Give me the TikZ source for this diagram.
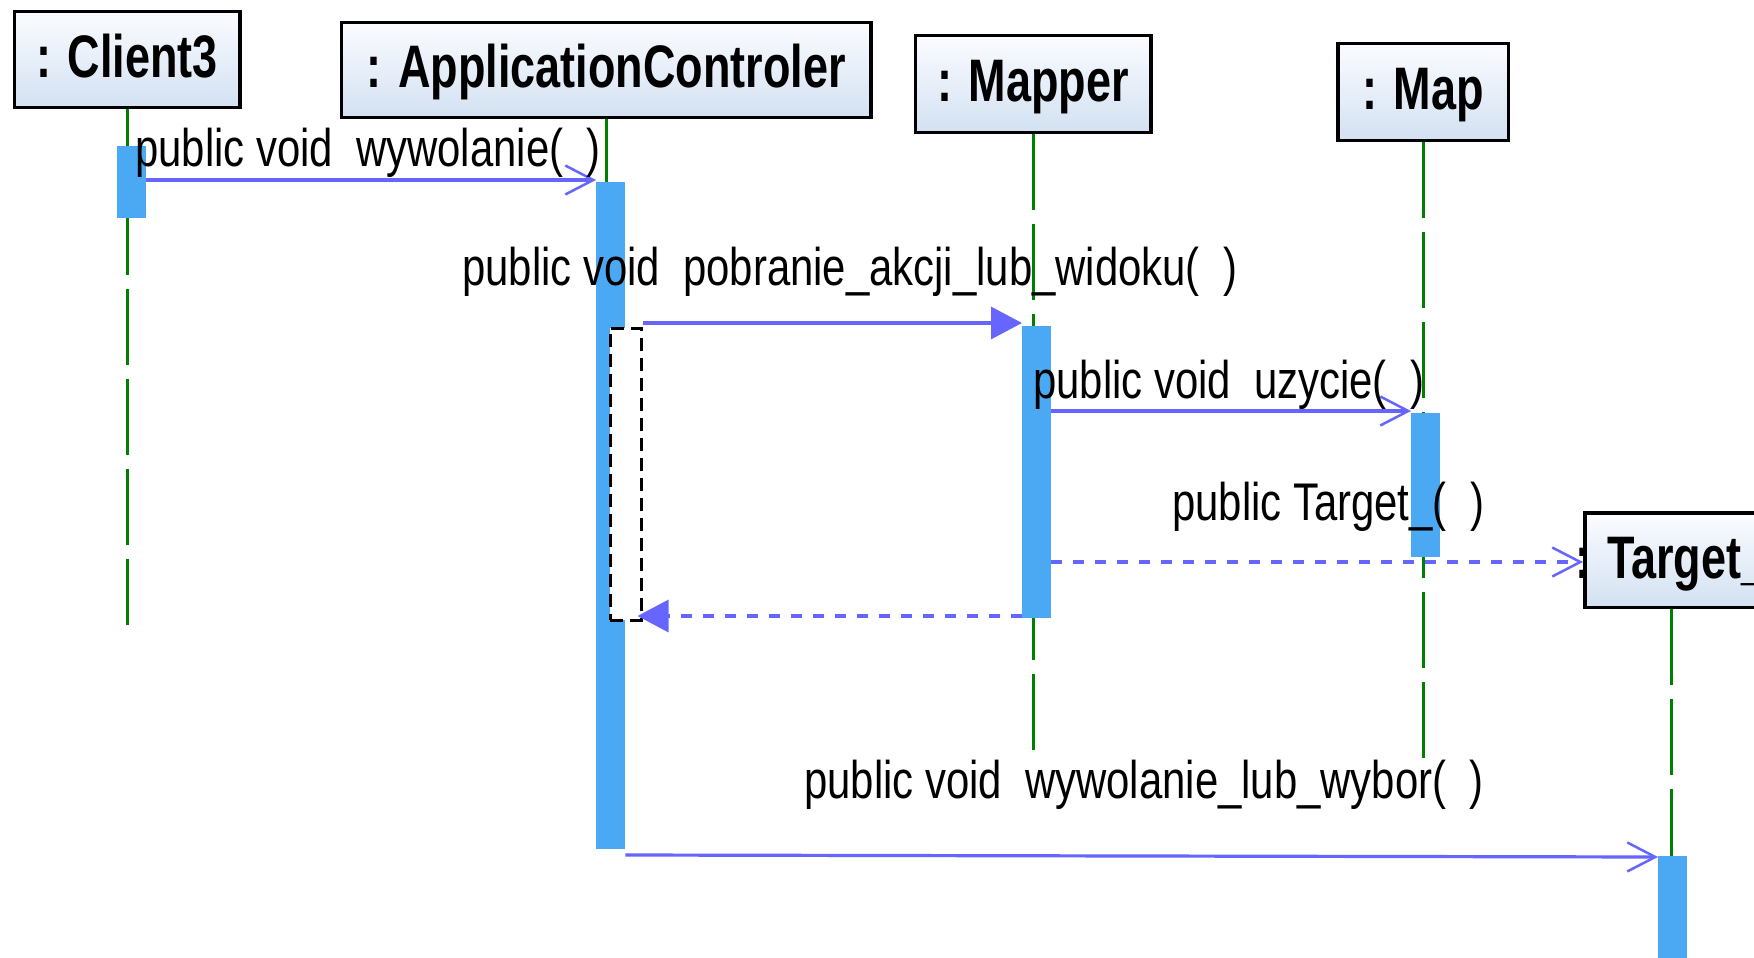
\documentclass[tikz,border=0pt]{standalone}
\usepackage{fontspec}
\setmainfont{Liberation Sans}
\newfontfamily\msgfont[FakeStretch=0.79]{Liberation Sans}
\newfontfamily\objfont[FakeStretch=0.75]{Liberation Sans Bold}
\usetikzlibrary{arrows.meta}

\definecolor{actblue}{RGB}{75,168,242}
\definecolor{msgblue}{RGB}{102,102,255}
\definecolor{lifegreen}{RGB}{0,128,0}
\definecolor{headtop}{RGB}{251,252,255}
\definecolor{headbot}{RGB}{211,225,242}

\begin{document}
\begin{tikzpicture}[x=1pt,y=-1pt,
  objbox/.style={draw=black,line width=3.5pt,top color=headtop,bottom color=headbot,inner sep=0pt},
  objname/.style={inner sep=0pt,text height=36pt,text depth=0pt,font=\objfont\fontsize{60}{60}\selectfont},
  lifeline/.style={draw=lifegreen,line width=3pt,dash pattern=on 76pt off 14pt},
  activation/.style={fill=actblue,draw=none,inner sep=0pt,minimum width=29pt,anchor=north west},
  msg/.style={draw=msgblue,line width=3.2pt},
  call/.style={msg,-{Straight Barb[length=28pt,width=29pt,line width=2.5pt]}},
  sync/.style={msg,-{Triangle[length=31pt,width=32pt]}},
  reply/.style={dash pattern=on 11pt off 11pt},
  msglabel/.style={inner sep=0pt,anchor=base west,font=\msgfont\fontsize{53}{60}\selectfont},
  nested/.style={draw=black,fill=white,line width=2.5pt,dash pattern=on 13pt off 7pt,inner sep=0pt,anchor=north west}
]
\useasboundingbox (0,0) rectangle (1754,958);
\clip (0,0) rectangle (1754,958);
\fill[white] (0,0) rectangle (1754,958);

% object heads
\node[objbox,minimum width=225.5pt,minimum height=95.5pt] (client) at (127,59.5) {};
\node[objbox,minimum width=529.5pt,minimum height=94.5pt] (ctrl) at (606,70) {};
\node[objbox,minimum width=235.5pt,minimum height=96.5pt] (mapper) at (1033,84) {};
\node[objbox,minimum width=170.5pt,minimum height=96.5pt] (map) at (1423,92) {};
\node[objbox,minimum width=172.5pt,minimum height=94.5pt] (target) at (1671,560) {};

% lifelines
\draw[lifeline] (client.south) -- ++(0,516);
\draw[lifeline] (ctrl.south) -- ++(0,616);
\draw[lifeline] (mapper.south) -- ++(0,616);
\draw[lifeline] (map.south) -- ++(0,616);
\draw[lifeline] (target.south) -- ++(0,360);

% activation bars
\node[activation,minimum height=72pt] (actclient) at (117,146) {};
\node[activation,minimum height=667pt] (actctrl) at (596,182) {};
\node[activation,minimum height=292pt] (actmapper) at (1022,326) {};
\node[activation,minimum height=144pt] (actmap) at (1411,413) {};
\node[activation,minimum height=110pt] (acttarget) at (1658,856) {};

% nested execution on the controller
\node[nested,minimum width=31pt,minimum height=292pt] (inner) at (609,327) {};

% message levels
\coordinate (y1) at (0,180);
\coordinate (y2) at (0,323);
\coordinate (y3) at (0,411);
\coordinate (y4) at (0,562);
\coordinate (y5) at (0,616);
\coordinate (y6) at (0,855);
\coordinate (y6e) at (0,857);
\coordinate (ret) at ([xshift=-5pt]inner.east |- y5);

% messages
\draw[call] (actclient.east |- y1) -- (actctrl.west |- y1);
\draw[sync] (inner.east |- y2) -- (actmapper.west |- y2);
\draw[call] (actmapper.east |- y3) -- (actmap.west |- y3);
\draw[call,reply] (actmapper.east |- y4) -- (target.west |- y4);
\draw[sync,reply] (actmapper.west |- y5) -- (ret);
\draw[call] (actctrl.east |- y6) -- (acttarget.west |- y6e);

% object names
\node[objname] (clientname) at (client.center) {: Client3};
\node[objname] (ctrlname) at (ctrl.center) {: ApplicationControler};
\node[objname] (mappername) at (mapper.center) {: Mapper};
\node[objname] (mapname) at (map.center) {: Map};
\node[objname] (targetname) at (target.center) {: Target\_};

% message labels
\node[msglabel] (l1) at (135,166) {public void~~wywolanie(~~)};
\node[msglabel] (l2) at (462,285) {public void~~pobranie\_akcji\_lub\_widoku(~~)};
\node[msglabel] (l3) at (1033,398) {public void~~uzycie(~~)};
\node[msglabel] (l4) at (1172,520) {public Target\_(~~)};
\node[msglabel] (l6) at (804,798) {public void~~wywolanie\_lub\_wybor(~~)};
\end{tikzpicture}
\end{document}
